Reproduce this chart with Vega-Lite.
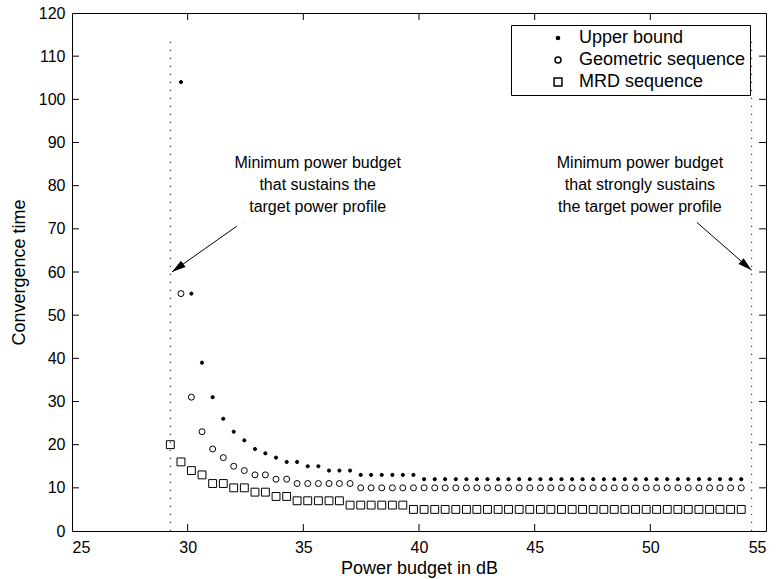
{
  "$schema": "https://vega.github.io/schema/vega-lite/v6.json",
  "width": 694,
  "height": 518,
  "autosize": {"type": "none"},
  "padding": {"left": 72, "top": 13, "right": 11, "bottom": 48},
  "background": "white",
  "config": {
    "view": {"stroke": "black", "strokeWidth": 1},
    "font": "Liberation Sans",
    "axis": {
      "grid": false, "domain": false, "ticks": false, "labelColor": "black", "titleColor": "black",
      "labelFont": "Liberation Sans", "titleFont": "Liberation Sans", "labelFontSize": 16, "titleFontSize": 18,
      "titleFontWeight": "normal"
    },
    "legend": {
      "orient": "none", "legendX": 439, "legendY": 12, "strokeColor": "black", "fillColor": "white",
      "padding": 4, "labelFont": "Liberation Sans", "labelFontSize": 18, "labelColor": "black", "labelLimit": 400,
      "symbolOffset": 34, "rowPadding": 4, "labelOffset": 12
    }
  },
  "datasets": {
    "pts": [
      {"p": 29.71, "t": 104, "s": "Upper bound"}, {"p": 30.16, "t": 55, "s": "Upper bound"}, {"p": 30.62, "t": 39, "s": "Upper bound"},
      {"p": 31.08, "t": 31, "s": "Upper bound"}, {"p": 31.54, "t": 26, "s": "Upper bound"}, {"p": 31.99, "t": 23, "s": "Upper bound"},
      {"p": 32.45, "t": 21, "s": "Upper bound"}, {"p": 32.91, "t": 19, "s": "Upper bound"}, {"p": 33.36, "t": 18, "s": "Upper bound"},
      {"p": 33.82, "t": 17, "s": "Upper bound"}, {"p": 34.28, "t": 16, "s": "Upper bound"}, {"p": 34.73, "t": 16, "s": "Upper bound"},
      {"p": 35.19, "t": 15, "s": "Upper bound"}, {"p": 35.65, "t": 15, "s": "Upper bound"}, {"p": 36.11, "t": 14, "s": "Upper bound"},
      {"p": 36.56, "t": 14, "s": "Upper bound"}, {"p": 37.02, "t": 14, "s": "Upper bound"}, {"p": 37.48, "t": 13, "s": "Upper bound"},
      {"p": 37.93, "t": 13, "s": "Upper bound"}, {"p": 38.39, "t": 13, "s": "Upper bound"}, {"p": 38.85, "t": 13, "s": "Upper bound"},
      {"p": 39.30, "t": 13, "s": "Upper bound"}, {"p": 39.76, "t": 13, "s": "Upper bound"}, {"p": 40.22, "t": 12, "s": "Upper bound"},
      {"p": 40.68, "t": 12, "s": "Upper bound"}, {"p": 41.13, "t": 12, "s": "Upper bound"}, {"p": 41.59, "t": 12, "s": "Upper bound"},
      {"p": 42.05, "t": 12, "s": "Upper bound"}, {"p": 42.50, "t": 12, "s": "Upper bound"}, {"p": 42.96, "t": 12, "s": "Upper bound"},
      {"p": 43.42, "t": 12, "s": "Upper bound"}, {"p": 43.87, "t": 12, "s": "Upper bound"}, {"p": 44.33, "t": 12, "s": "Upper bound"},
      {"p": 44.79, "t": 12, "s": "Upper bound"}, {"p": 45.25, "t": 12, "s": "Upper bound"}, {"p": 45.70, "t": 12, "s": "Upper bound"},
      {"p": 46.16, "t": 12, "s": "Upper bound"}, {"p": 46.62, "t": 12, "s": "Upper bound"}, {"p": 47.07, "t": 12, "s": "Upper bound"},
      {"p": 47.53, "t": 12, "s": "Upper bound"}, {"p": 47.99, "t": 12, "s": "Upper bound"}, {"p": 48.44, "t": 12, "s": "Upper bound"},
      {"p": 48.90, "t": 12, "s": "Upper bound"}, {"p": 49.36, "t": 12, "s": "Upper bound"}, {"p": 49.82, "t": 12, "s": "Upper bound"},
      {"p": 50.27, "t": 12, "s": "Upper bound"}, {"p": 50.73, "t": 12, "s": "Upper bound"}, {"p": 51.19, "t": 12, "s": "Upper bound"},
      {"p": 51.64, "t": 12, "s": "Upper bound"}, {"p": 52.10, "t": 12, "s": "Upper bound"}, {"p": 52.56, "t": 12, "s": "Upper bound"},
      {"p": 53.01, "t": 12, "s": "Upper bound"}, {"p": 53.47, "t": 12, "s": "Upper bound"}, {"p": 53.93, "t": 12, "s": "Upper bound"},

      {"p": 29.71, "t": 55, "s": "Geometric sequence"}, {"p": 30.16, "t": 31, "s": "Geometric sequence"}, {"p": 30.62, "t": 23, "s": "Geometric sequence"},
      {"p": 31.08, "t": 19, "s": "Geometric sequence"}, {"p": 31.54, "t": 17, "s": "Geometric sequence"}, {"p": 31.99, "t": 15, "s": "Geometric sequence"},
      {"p": 32.45, "t": 14, "s": "Geometric sequence"}, {"p": 32.91, "t": 13, "s": "Geometric sequence"}, {"p": 33.36, "t": 13, "s": "Geometric sequence"},
      {"p": 33.82, "t": 12, "s": "Geometric sequence"}, {"p": 34.28, "t": 12, "s": "Geometric sequence"}, {"p": 34.73, "t": 11, "s": "Geometric sequence"},
      {"p": 35.19, "t": 11, "s": "Geometric sequence"}, {"p": 35.65, "t": 11, "s": "Geometric sequence"}, {"p": 36.11, "t": 11, "s": "Geometric sequence"},
      {"p": 36.56, "t": 11, "s": "Geometric sequence"}, {"p": 37.02, "t": 11, "s": "Geometric sequence"}, {"p": 37.48, "t": 10, "s": "Geometric sequence"},
      {"p": 37.93, "t": 10, "s": "Geometric sequence"}, {"p": 38.39, "t": 10, "s": "Geometric sequence"}, {"p": 38.85, "t": 10, "s": "Geometric sequence"},
      {"p": 39.30, "t": 10, "s": "Geometric sequence"}, {"p": 39.76, "t": 10, "s": "Geometric sequence"}, {"p": 40.22, "t": 10, "s": "Geometric sequence"},
      {"p": 40.68, "t": 10, "s": "Geometric sequence"}, {"p": 41.13, "t": 10, "s": "Geometric sequence"}, {"p": 41.59, "t": 10, "s": "Geometric sequence"},
      {"p": 42.05, "t": 10, "s": "Geometric sequence"}, {"p": 42.50, "t": 10, "s": "Geometric sequence"}, {"p": 42.96, "t": 10, "s": "Geometric sequence"},
      {"p": 43.42, "t": 10, "s": "Geometric sequence"}, {"p": 43.87, "t": 10, "s": "Geometric sequence"}, {"p": 44.33, "t": 10, "s": "Geometric sequence"},
      {"p": 44.79, "t": 10, "s": "Geometric sequence"}, {"p": 45.25, "t": 10, "s": "Geometric sequence"}, {"p": 45.70, "t": 10, "s": "Geometric sequence"},
      {"p": 46.16, "t": 10, "s": "Geometric sequence"}, {"p": 46.62, "t": 10, "s": "Geometric sequence"}, {"p": 47.07, "t": 10, "s": "Geometric sequence"},
      {"p": 47.53, "t": 10, "s": "Geometric sequence"}, {"p": 47.99, "t": 10, "s": "Geometric sequence"}, {"p": 48.44, "t": 10, "s": "Geometric sequence"},
      {"p": 48.90, "t": 10, "s": "Geometric sequence"}, {"p": 49.36, "t": 10, "s": "Geometric sequence"}, {"p": 49.82, "t": 10, "s": "Geometric sequence"},
      {"p": 50.27, "t": 10, "s": "Geometric sequence"}, {"p": 50.73, "t": 10, "s": "Geometric sequence"}, {"p": 51.19, "t": 10, "s": "Geometric sequence"},
      {"p": 51.64, "t": 10, "s": "Geometric sequence"}, {"p": 52.10, "t": 10, "s": "Geometric sequence"}, {"p": 52.56, "t": 10, "s": "Geometric sequence"},
      {"p": 53.01, "t": 10, "s": "Geometric sequence"}, {"p": 53.47, "t": 10, "s": "Geometric sequence"}, {"p": 53.93, "t": 10, "s": "Geometric sequence"},

      {"p": 29.25, "t": 20, "s": "MRD sequence"},
      {"p": 29.71, "t": 16, "s": "MRD sequence"}, {"p": 30.16, "t": 14, "s": "MRD sequence"}, {"p": 30.62, "t": 13, "s": "MRD sequence"},
      {"p": 31.08, "t": 11, "s": "MRD sequence"}, {"p": 31.54, "t": 11, "s": "MRD sequence"}, {"p": 31.99, "t": 10, "s": "MRD sequence"},
      {"p": 32.45, "t": 10, "s": "MRD sequence"}, {"p": 32.91, "t": 9, "s": "MRD sequence"}, {"p": 33.36, "t": 9, "s": "MRD sequence"},
      {"p": 33.82, "t": 8, "s": "MRD sequence"}, {"p": 34.28, "t": 8, "s": "MRD sequence"}, {"p": 34.73, "t": 7, "s": "MRD sequence"},
      {"p": 35.19, "t": 7, "s": "MRD sequence"}, {"p": 35.65, "t": 7, "s": "MRD sequence"}, {"p": 36.11, "t": 7, "s": "MRD sequence"},
      {"p": 36.56, "t": 7, "s": "MRD sequence"}, {"p": 37.02, "t": 6, "s": "MRD sequence"}, {"p": 37.48, "t": 6, "s": "MRD sequence"},
      {"p": 37.93, "t": 6, "s": "MRD sequence"}, {"p": 38.39, "t": 6, "s": "MRD sequence"}, {"p": 38.85, "t": 6, "s": "MRD sequence"},
      {"p": 39.30, "t": 6, "s": "MRD sequence"}, {"p": 39.76, "t": 5, "s": "MRD sequence"}, {"p": 40.22, "t": 5, "s": "MRD sequence"},
      {"p": 40.68, "t": 5, "s": "MRD sequence"}, {"p": 41.13, "t": 5, "s": "MRD sequence"}, {"p": 41.59, "t": 5, "s": "MRD sequence"},
      {"p": 42.05, "t": 5, "s": "MRD sequence"}, {"p": 42.50, "t": 5, "s": "MRD sequence"}, {"p": 42.96, "t": 5, "s": "MRD sequence"},
      {"p": 43.42, "t": 5, "s": "MRD sequence"}, {"p": 43.87, "t": 5, "s": "MRD sequence"}, {"p": 44.33, "t": 5, "s": "MRD sequence"},
      {"p": 44.79, "t": 5, "s": "MRD sequence"}, {"p": 45.25, "t": 5, "s": "MRD sequence"}, {"p": 45.70, "t": 5, "s": "MRD sequence"},
      {"p": 46.16, "t": 5, "s": "MRD sequence"}, {"p": 46.62, "t": 5, "s": "MRD sequence"}, {"p": 47.07, "t": 5, "s": "MRD sequence"},
      {"p": 47.53, "t": 5, "s": "MRD sequence"}, {"p": 47.99, "t": 5, "s": "MRD sequence"}, {"p": 48.44, "t": 5, "s": "MRD sequence"},
      {"p": 48.90, "t": 5, "s": "MRD sequence"}, {"p": 49.36, "t": 5, "s": "MRD sequence"}, {"p": 49.82, "t": 5, "s": "MRD sequence"},
      {"p": 50.27, "t": 5, "s": "MRD sequence"}, {"p": 50.73, "t": 5, "s": "MRD sequence"}, {"p": 51.19, "t": 5, "s": "MRD sequence"},
      {"p": 51.64, "t": 5, "s": "MRD sequence"}, {"p": 52.10, "t": 5, "s": "MRD sequence"}, {"p": 52.56, "t": 5, "s": "MRD sequence"},
      {"p": 53.01, "t": 5, "s": "MRD sequence"}, {"p": 53.47, "t": 5, "s": "MRD sequence"}, {"p": 53.93, "t": 5, "s": "MRD sequence"}
    ],
    "bounds": [{"p": 29.25}, {"p": 54.38}],
    "xticks": [{"v": 30}, {"v": 35}, {"v": 40}, {"v": 45}, {"v": 50}],
    "yticks": [{"v": 10}, {"v": 20}, {"v": 30}, {"v": 40}, {"v": 50}, {"v": 60}, {"v": 70}, {"v": 80}, {"v": 90}, {"v": 100}, {"v": 110}],
    "notes": [
      {"p": 35.62, "t": 85.2, "txt": "Minimum power budget"},
      {"p": 35.62, "t": 80.1, "txt": "that sustains the"},
      {"p": 35.62, "t": 75.0, "txt": "target power profile"},
      {"p": 49.55, "t": 85.2, "txt": "Minimum power budget"},
      {"p": 49.55, "t": 80.1, "txt": "that strongly sustains"},
      {"p": 49.55, "t": 75.0, "txt": "the target power profile"}
    ],
    "arrowL": [{"p": 32.12, "t": 70.6, "p2": 29.32, "t2": 60.0}],
    "arrowR": [{"p": 52.01, "t": 71.5, "p2": 54.38, "t2": 60.4}]
  },
  "layer": [
    {
      "data": {"name": "pts"},
      "mark": {"type": "point", "stroke": "black", "strokeWidth": 1, "opacity": 1},
      "encoding": {
        "x": {"field": "p", "type": "quantitative", "title": "Power budget in dB",
              "scale": {"domain": [25, 55], "nice": false, "zero": false},
              "axis": {"values": [25, 30, 35, 40, 45, 50, 55], "labelPadding": 8, "titlePadding": 4}},
        "y": {"field": "t", "type": "quantitative", "title": "Convergence time",
              "scale": {"domain": [0, 120], "nice": false},
              "axis": {"values": [0, 10, 20, 30, 40, 50, 60, 70, 80, 90, 100, 110, 120], "labelPadding": 7, "titlePadding": 10}},
        "shape": {"field": "s", "type": "nominal",
                  "scale": {"domain": ["Upper bound", "Geometric sequence", "MRD sequence"], "range": ["circle", "circle", "square"]},
                  "legend": {"title": null}},
        "size": {"field": "s", "type": "nominal",
                 "scale": {"domain": ["Upper bound", "Geometric sequence", "MRD sequence"], "range": [10, 62, 44]},
                 "legend": {"title": null}},
        "fill": {"field": "s", "type": "nominal",
                 "scale": {"domain": ["Upper bound", "Geometric sequence", "MRD sequence"], "range": ["black", "transparent", "transparent"]},
                 "legend": {"title": null}}
      }
    },
    {
      "data": {"name": "bounds"},
      "mark": {"type": "rule", "color": "#222222", "strokeWidth": 1, "strokeDash": [1.2, 6.8]},
      "encoding": {
        "x": {"field": "p", "type": "quantitative"},
        "y": {"datum": 0, "type": "quantitative"},
        "y2": {"datum": 114}
      }
    },
    {
      "data": {"name": "xticks"},
      "mark": {"type": "rule", "color": "black", "strokeWidth": 1},
      "encoding": {"x": {"field": "v", "type": "quantitative"}, "y": {"datum": 0, "type": "quantitative"}, "y2": {"datum": 1.62}}
    },
    {
      "data": {"name": "xticks"},
      "mark": {"type": "rule", "color": "black", "strokeWidth": 1},
      "encoding": {"x": {"field": "v", "type": "quantitative"}, "y": {"datum": 120, "type": "quantitative"}, "y2": {"datum": 118.38}}
    },
    {
      "data": {"name": "yticks"},
      "mark": {"type": "rule", "color": "black", "strokeWidth": 1},
      "encoding": {"y": {"field": "v", "type": "quantitative"}, "x": {"datum": 25, "type": "quantitative"}, "x2": {"datum": 25.3}}
    },
    {
      "data": {"name": "yticks"},
      "mark": {"type": "rule", "color": "black", "strokeWidth": 1},
      "encoding": {"y": {"field": "v", "type": "quantitative"}, "x": {"datum": 55, "type": "quantitative"}, "x2": {"datum": 54.7}}
    },
    {
      "data": {"name": "notes"},
      "mark": {"type": "text", "fontSize": 16, "font": "Liberation Sans", "align": "center", "baseline": "middle", "color": "black"},
      "encoding": {
        "x": {"field": "p", "type": "quantitative"},
        "y": {"field": "t", "type": "quantitative"},
        "text": {"field": "txt"}
      }
    },
    {
      "data": {"name": "arrowL"},
      "mark": {"type": "rule", "color": "black", "strokeWidth": 1},
      "encoding": {
        "x": {"field": "p", "type": "quantitative"},
        "y": {"field": "t", "type": "quantitative"},
        "x2": {"field": "p2"},
        "y2": {"field": "t2"}
      }
    },
    {
      "data": {"name": "arrowR"},
      "mark": {"type": "rule", "color": "black", "strokeWidth": 1},
      "encoding": {
        "x": {"field": "p", "type": "quantitative"},
        "y": {"field": "t", "type": "quantitative"},
        "x2": {"field": "p2"},
        "y2": {"field": "t2"}
      }
    },
    {
      "data": {"name": "arrowL"},
      "mark": {"type": "point", "shape": "M0,0 L0.55,2 L-0.55,2 Z", "size": 196, "angle": 234, "filled": true, "color": "black", "opacity": 1},
      "encoding": {
        "x": {"field": "p2", "type": "quantitative"},
        "y": {"field": "t2", "type": "quantitative"}
      }
    },
    {
      "data": {"name": "arrowR"},
      "mark": {"type": "point", "shape": "M0,0 L0.55,2 L-0.55,2 Z", "size": 196, "angle": 131, "filled": true, "color": "black", "opacity": 1},
      "encoding": {
        "x": {"field": "p2", "type": "quantitative"},
        "y": {"field": "t2", "type": "quantitative"}
      }
    }
  ]
}
